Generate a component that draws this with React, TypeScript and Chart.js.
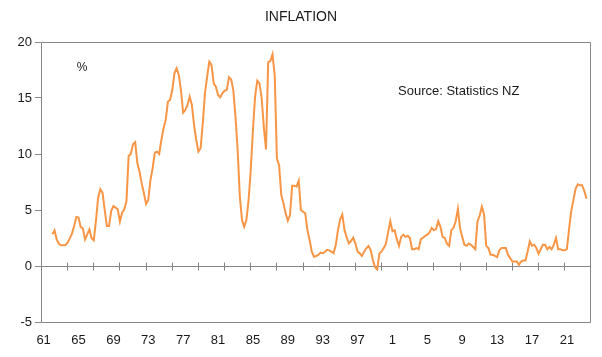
import React, { useEffect, useRef } from "react";
import { Chart, registerables } from "chart.js";

Chart.register(...registerables);

// Quarterly annual CPI inflation (%), New Zealand. Index 0 = 1961 Q1.
const AXIS_START_YEAR = 1961;
const FIRST_OBS_INDEX = 4; // 1962 Q1

const cpi1960s = [
  2.83, 3.18, 2.38, 1.99, 1.85, 1.85, 1.88, 2.08, 2.47, 2.89, 3.57, 4.38, 4.32, 3.48, 3.36, 2.38,
  2.83, 3.27, 2.47, 2.29, 4.02, 6.1, 6.85, 6.55, 5.06, 3.57, 3.57, 4.91, 5.36, 5.21, 5.06, 3.96,
];
const cpi1970s = [
  4.76, 5.06, 5.8, 9.82, 10.03, 10.86, 11.05, 9.17, 8.42, 7.38, 6.49, 5.54, 5.89, 7.68, 8.72, 10.12,
  10.21, 10.0, 11.25, 12.29, 13.04, 14.67, 14.82, 15.71, 17.2, 17.65, 17.05, 15.71, 13.69, 13.93, 14.38, 15.12,
  14.38, 12.59, 11.25, 10.21, 10.51, 12.74, 15.42, 16.9,
];
const cpi1980s = [
  18.24, 17.95, 16.31, 16.01, 15.27, 15.06, 15.42, 15.65, 15.71, 16.85, 16.67, 15.71, 13.33, 10.36, 6.19, 4.11,
  3.51, 4.11, 5.89, 8.57, 12.14, 15.12, 16.55, 16.31, 15.0, 12.4, 10.4, 18.2, 18.3, 18.9, 17.0, 9.6,
  9.0, 6.34, 5.6, 4.7, 4.05, 4.55, 7.17, 7.17,
];
const cpi1990s = [
  7.08, 7.62, 5.0, 4.85, 4.7, 3.21, 2.32, 1.28, 0.83, 0.89, 0.98, 1.2, 1.15, 1.25, 1.45, 1.4,
  1.28, 1.15, 1.88, 3.21, 4.17, 4.6, 3.21, 2.56, 2.02, 2.23, 2.53, 2.02, 1.28, 1.13, 0.89, 1.28,
  1.58, 1.79, 1.43, 0.54, -0.1, -0.3, 1.1, 1.3,
];
const cpi2000s = [
  1.6, 2.0, 3.0, 4.0, 3.1, 3.2, 2.4, 1.8, 2.6, 2.8, 2.6, 2.7, 2.5, 1.5, 1.5, 1.6,
  1.5, 2.4, 2.5, 2.7, 2.8, 3.0, 3.4, 3.2, 3.3, 4.0, 3.5, 2.6, 2.5, 2.0, 1.8, 3.2,
  3.4, 4.0, 5.1, 3.4, 2.6, 1.9, 1.8, 2.0,
];
const cpi2010s = [
  1.9, 1.7, 1.5, 4.0, 4.5, 5.3, 4.6, 1.8, 1.6, 1.0, 1.0, 0.9, 0.8, 1.4, 1.6, 1.6,
  1.6, 1.0, 0.7, 0.4, 0.4, 0.4, 0.1, 0.4, 0.5, 0.5, 1.3, 2.2, 1.8, 1.9, 1.6, 1.1,
  1.5, 1.9, 1.9, 1.5, 1.7, 1.5, 1.9, 2.5,
];
const cpi2020s = [1.5, 1.5, 1.4, 1.4, 1.5, 3.3, 4.9, 5.9, 6.9, 7.3, 7.2, 7.2, 6.7, 6.0];

const inflation = [...cpi1960s, ...cpi1970s, ...cpi1980s, ...cpi1990s, ...cpi2000s, ...cpi2010s, ...cpi2020s];

const xLabelYears = [1961, 1965, 1969, 1973, 1977, 1981, 1985, 1989, 1993, 1997, 2001, 2005, 2009, 2013, 2017, 2021];
const yTickValues = [-5, 0, 5, 10, 15, 20];
const X_MIN = -1.2;
const X_MAX = 250.6;
const MINOR_TICK_STEP = 12; // quarters between the tick marks on the zero line

const TITLE = "INFLATION";
const UNIT = "%";
const SOURCE = "Source: Statistics NZ";

const FONT = "'Liberation Sans', Arial, sans-serif";
const AXIS_COLOR = "#868686";
const LINE_COLOR = "#F79646";

const framePlugin = {
  id: "frame",
  beforeDatasetsDraw(chart: any) {
    const { ctx, chartArea } = chart;
    const { left, right, top, bottom } = chartArea;
    ctx.save();
    ctx.strokeStyle = AXIS_COLOR;
    ctx.lineWidth = 1;
    ctx.beginPath();
    ctx.rect(Math.round(left) + 0.5, Math.round(top) + 0.5, Math.round(right - left), Math.round(bottom - top));
    ctx.stroke();
    const ys = chart.scales.y;
    const xs = chart.scales.x;
    const y0 = Math.round(ys.getPixelForValue(0)) + 0.5;
    ctx.beginPath();
    ctx.moveTo(left, y0);
    ctx.lineTo(right, y0);
    for (let v = X_MIN + MINOR_TICK_STEP; v < X_MAX; v += MINOR_TICK_STEP) {
      const px = Math.round(xs.getPixelForValue(v)) + 0.5;
      ctx.moveTo(px, y0 - 4);
      ctx.lineTo(px, y0 + 4);
    }
    ctx.stroke();
    ctx.restore();
  },
  afterDraw(chart: any) {
    const { ctx } = chart;
    ctx.save();
    ctx.fillStyle = "#1a1a1a";
    ctx.textBaseline = "middle";
    ctx.textAlign = "center";
    ctx.font = `14px ${FONT}`;
    ctx.fillText(TITLE, 301, 17);
    ctx.font = `12px ${FONT}`;
    ctx.fillText(UNIT, 82, 68);
    ctx.textAlign = "left";
    ctx.font = `13px ${FONT}`;
    ctx.fillText(SOURCE, 398, 91);
    ctx.restore();
  },
};

export default function App() {
  const canvasRef = useRef<HTMLCanvasElement | null>(null);

  useEffect(() => {
    if (!canvasRef.current) return;
    const data = inflation.map((v, k) => ({ x: FIRST_OBS_INDEX + k, y: v }));
    const chart = new Chart(canvasRef.current, {
      type: "line",
      data: {
        datasets: [
          {
            label: "Inflation",
            data,
            borderColor: LINE_COLOR,
            borderWidth: 2,
            pointRadius: 0,
            tension: 0,
            fill: false,
          },
        ],
      },
      options: {
        responsive: false,
        animation: false,
        devicePixelRatio: 1,
        layout: { padding: { top: 42, right: 12, left: 0, bottom: 0 } },
        plugins: {
          legend: { display: false },
          title: { display: false },
          tooltip: { enabled: false },
        },
        scales: {
          x: {
            type: "linear",
            min: X_MIN,
            max: X_MAX,
            grid: { display: false, drawTicks: false },
            border: { display: false },
            afterBuildTicks: (scale: any) => {
              scale.ticks = xLabelYears.map((yr) => ({ value: (yr - AXIS_START_YEAR) * 4 }));
            },
            afterFit: (scale: any) => {
              scale.height = 35;
            },
            ticks: {
              autoSkip: false,
              maxRotation: 0,
              minRotation: 0,
              padding: 11,
              color: "#1a1a1a",
              font: { family: FONT, size: 13 },
              callback: (value: any) => String((AXIS_START_YEAR + Number(value) / 4) % 100),
            },
          },
          y: {
            type: "linear",
            min: -5,
            max: 20,
            afterBuildTicks: (scale: any) => {
              scale.ticks = yTickValues.map((v) => ({ value: v }));
            },
            afterFit: (scale: any) => {
              scale.width = 41;
            },
            grid: {
              drawOnChartArea: false,
              drawTicks: true,
              tickLength: 6,
              color: AXIS_COLOR,
            },
            border: { display: false },
            ticks: {
              padding: 3,
              color: "#1a1a1a",
              font: { family: FONT, size: 13 },
            },
          },
        },
      },
      plugins: [framePlugin],
    });
    return () => chart.destroy();
  }, []);

  return (
    <div style={{ position: "fixed", left: 0, top: 0, width: 602, height: 357, background: "#fff" }}>
      <canvas ref={canvasRef} width={602} height={357} />
    </div>
  );
}
